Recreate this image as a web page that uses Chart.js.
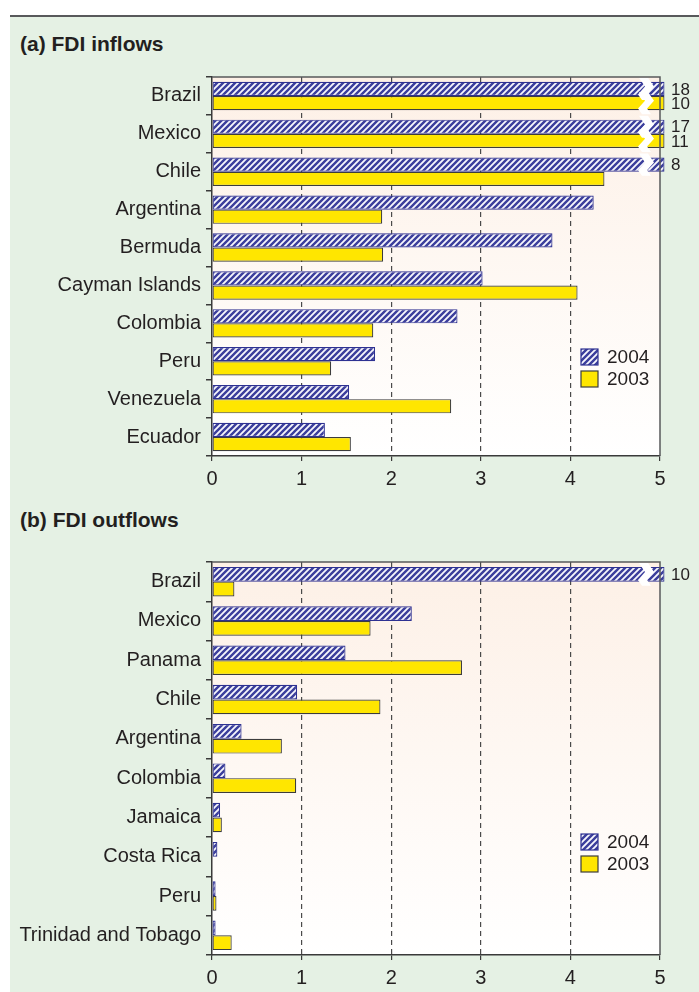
<!DOCTYPE html>
<html>
<head>
<meta charset="utf-8">
<script src="https://cdn.jsdelivr.net/npm/chart.js@4.4.1/dist/chart.umd.min.js"></script>
<style>
  body { margin: 0; background: #fff; width: 699px; height: 992px; overflow: hidden; position: relative;
         font-family: "Liberation Sans", Arial, sans-serif; }
  #frame { position: absolute; left: 10px; top: 15px; width: 689px; height: 977px;
           background: #e5f1e4; border-top: 2px solid #58595b; box-sizing: border-box; }
  .title { position: absolute; left: 20px; font-weight: bold; font-size: 21px; color: #231f20; line-height: 22px; }
  canvas { position: absolute; left: 0; }
</style>
</head>
<body>
<div id="frame"></div>
<div class="title" style="top:33px">(a) FDI inflows</div>
<canvas id="inflows" width="699" height="433" style="top:60px"></canvas>
<div class="title" style="top:509px">(b) FDI outflows</div>
<canvas id="outflows" width="699" height="447" style="top:545px"></canvas>

<script>
// ===== Data =====
const seriesLabels = ["2004", "2003"];
const xTicks = [0, 1, 2, 3, 4, 5];

const inflowCountries = ["Brazil", "Mexico", "Chile", "Argentina", "Bermuda", "Cayman Islands",
  "Colombia", "Peru", "Venezuela", "Ecuador"];
const inflow2004 = [18, 17, 8, 4.26, 3.8, 3.02, 2.74, 1.82, 1.53, 1.26];
const inflow2003 = [10, 11, 4.38, 1.9, 1.91, 4.08, 1.8, 1.33, 2.67, 1.55];

const outflowCountries = ["Brazil", "Mexico", "Panama", "Chile", "Argentina", "Colombia",
  "Jamaica", "Costa Rica", "Peru", "Trinidad and Tobago"];
const outflow2004 = [10, 2.23, 1.49, 0.95, 0.33, 0.15, 0.09, 0.06, 0.04, 0.04];
const outflow2003 = [0.25, 1.77, 2.79, 1.88, 0.78, 0.94, 0.11, 0, 0.05, 0.22];

// ===== Styles =====
const textColor = "#231f20";
const axisColor = "#3a3a3a";
const fontFamily = "'Liberation Sans', Arial, sans-serif";
const xMax = xTicks[xTicks.length - 1];

function makeHatch() {
  const c = document.createElement("canvas");
  c.width = 6; c.height = 6;
  const g = c.getContext("2d");
  g.fillStyle = "#f6f6fc";
  g.fillRect(0, 0, 6, 6);
  g.strokeStyle = "#3b3e9c";
  g.lineWidth = 2.4;
  g.beginPath();
  g.moveTo(-1, 7); g.lineTo(7, -1);
  g.moveTo(-4, 4); g.lineTo(4, -4);
  g.moveTo(2, 10); g.lineTo(10, 2);
  g.stroke();
  return g.createPattern(c, "repeat");
}
const hatch = makeHatch();

// ===== Plot background, breaks, value labels, legend =====
const decor = {
  id: "decor",
  beforeDraw(chart) {
    const { ctx, chartArea: a } = chart;
    const grad = ctx.createLinearGradient(0, a.top, 0, a.bottom);
    grad.addColorStop(0, "#fdf0e6");
    grad.addColorStop(1, "#ffffff");
    ctx.save();
    ctx.fillStyle = grad;
    ctx.fillRect(a.left, a.top, a.right - a.left, a.bottom - a.top);
    ctx.restore();
  },
  afterDatasetsDraw(chart, args, opts) {
    const { ctx, chartArea: a } = chart;
    ctx.save();
    // breaks on clipped bars
    chart.data.datasets.forEach((ds, di) => {
      chart.getDatasetMeta(di).data.forEach((bar, i) => {
        const v = ds.raw[i];
        if (v <= xMax) return;
        const x = a.right - 17;
        const y0 = bar.y - bar.height / 2 - 4, y1 = bar.y + bar.height / 2 + 4;
        const h = y1 - y0;
        ctx.fillStyle = "#ffffff";
        ctx.beginPath();
        ctx.moveTo(x - 4, y0);
        ctx.lineTo(x + 2, y0 + h * 0.4);
        ctx.lineTo(x - 5, y0 + h * 0.75);
        ctx.lineTo(x - 1, y1);
        ctx.lineTo(x + 8, y1);
        ctx.lineTo(x + 4, y0 + h * 0.75);
        ctx.lineTo(x + 11, y0 + h * 0.4);
        ctx.lineTo(x + 5, y0);
        ctx.closePath();
        ctx.fill();
        ctx.fillStyle = textColor;
        ctx.font = "17px " + fontFamily;
        ctx.textBaseline = "middle";
        ctx.textAlign = "left";
        ctx.fillText(String(v), a.right + 11, bar.y + 1);
      });
    });
    // top and right frame
    ctx.strokeStyle = "#58595b";
    ctx.lineWidth = 1.5;
    ctx.beginPath();
    ctx.moveTo(a.left, a.top);
    ctx.lineTo(a.right, a.top);
    ctx.lineTo(a.right, a.bottom);
    ctx.stroke();
    // legend
    chart.data.datasets.forEach((ds, di) => {
      const bx = a.right - 79, by = a.bottom - opts.legendFromBottom + di * 22;
      ctx.fillStyle = ds.backgroundColor;
      ctx.fillRect(bx, by, 17, 16);
      ctx.strokeStyle = ds.borderColor;
      ctx.lineWidth = 1.2;
      ctx.strokeRect(bx, by, 17, 16);
      ctx.fillStyle = textColor;
      ctx.font = "19px " + fontFamily;
      ctx.textBaseline = "middle";
      ctx.textAlign = "left";
      ctx.fillText(ds.label, bx + 26, by + 9);
    });
    ctx.restore();
  }
};

function makeChart(id, countries, d2004, d2003, padTop, legendFromBottom) {
  const ctx = document.getElementById(id).getContext("2d");
  return new Chart(ctx, {
    type: "bar",
    data: {
      labels: countries,
      datasets: [
        { label: seriesLabels[0], raw: d2004, data: d2004.map(v => Math.min(v, xMax + 0.05)),
          backgroundColor: hatch, borderColor: "#2e3192", borderWidth: 1.2, borderSkipped: false },
        { label: seriesLabels[1], raw: d2003, data: d2003.map(v => Math.min(v, xMax + 0.05)),
          backgroundColor: "#ffe600", borderColor: "#3c3c3c", borderWidth: 1.2, borderSkipped: false }
      ]
    },
    options: {
      indexAxis: "y",
      responsive: false,
      animation: false,
      devicePixelRatio: 1,
      layout: { padding: { top: padTop, right: 39, left: 0, bottom: 0 } },
      datasets: { bar: { categoryPercentage: 0.75, barPercentage: 1, clip: false } },
      plugins: {
        legend: { display: false },
        tooltip: { enabled: false },
        decor: { legendFromBottom }
      },
      scales: {
        x: {
          min: 0, max: xMax,
          afterBuildTicks: s => { s.ticks = xTicks.map(v => ({ value: v })); },
          ticks: { color: textColor, font: { size: 20, family: fontFamily }, padding: 6 },
          grid: {
            color: c => (c.tick && c.tick.value > 0 && c.tick.value < xMax) ? "#4a4a4a" : "rgba(0,0,0,0)",
            lineWidth: 1.2, tickColor: axisColor, tickLength: 5
          },
          border: { color: axisColor, width: 1.5, dash: [5, 4] },
          afterFit: s => { s.height = 37; }
        },
        y: {
          ticks: { color: textColor, font: { size: 20, family: fontFamily }, padding: 5 },
          grid: { offset: true, drawOnChartArea: false, tickColor: axisColor, tickLength: 6, lineWidth: 1.5 },
          border: { color: axisColor, width: 1.5 },
          afterFit: s => { s.width = 212; }
        }
      }
    },
    plugins: [decor]
  });
}

makeChart("inflows", inflowCountries, inflow2004, inflow2003, 14, 107);
makeChart("outflows", outflowCountries, outflow2004, outflow2003, 17, 121);
</script>
</body>
</html>
